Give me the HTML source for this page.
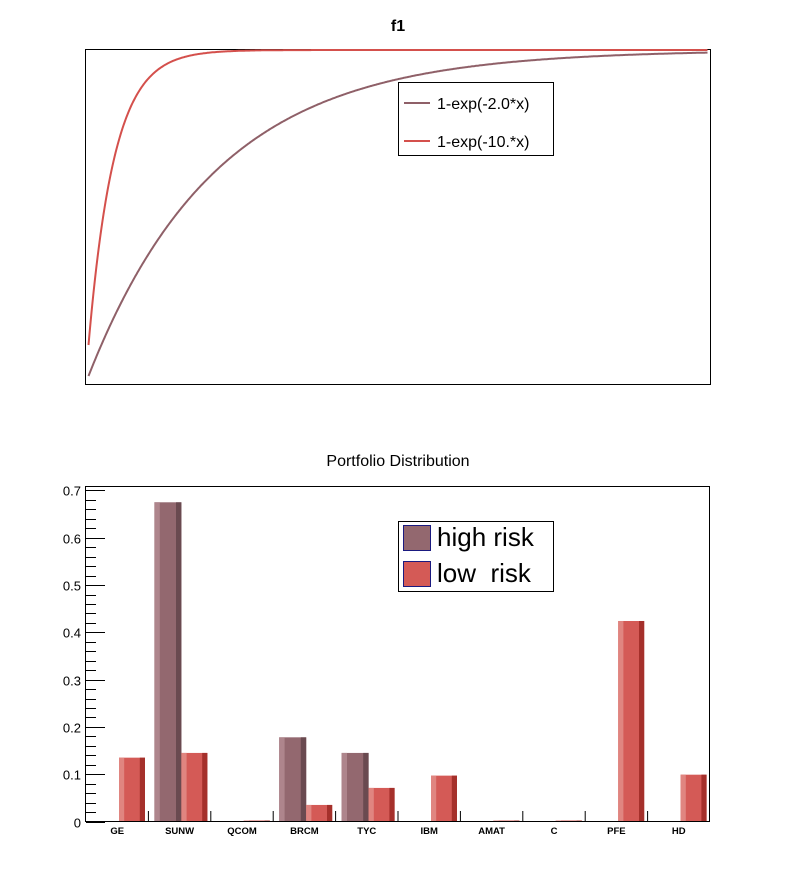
<!DOCTYPE html>
<html><head><meta charset="utf-8"><style>body{margin:0;background:#fff}svg{display:block}text{font-family:"Liberation Sans",sans-serif}</style></head>
<body>
<svg width="796" height="872" xmlns="http://www.w3.org/2000/svg" id="s">
<rect width="796" height="872" fill="#fff"/>
<text x="398" y="31" font-size="16" font-weight="bold" text-anchor="middle">f1</text>
<rect x="85.5" y="49.5" width="625" height="335" fill="none" stroke="#000" stroke-width="1"/>
<path id="brown" fill="none" stroke="#8f6068" stroke-width="2"/>
<path id="red" fill="none" stroke="#d4504c" stroke-width="2"/>
<rect x="398.5" y="82.5" width="155" height="73" fill="#fff" stroke="#000"/>
<line x1="404" y1="103" x2="430" y2="103" stroke="#8f6068" stroke-width="2"/>
<line x1="404" y1="141" x2="430" y2="141" stroke="#d4504c" stroke-width="2"/>
<text x="437" y="109" font-size="16">1-exp(-2.0*x)</text>
<text x="437" y="147" font-size="16">1-exp(-10.*x)</text>

<text x="398" y="466" font-size="16" text-anchor="middle">Portfolio Distribution</text>
<g id="bars"></g>
<rect x="85.5" y="486.5" width="624" height="335" fill="none" stroke="#000"/>
<g id="ticks" stroke="#000" stroke-width="1"></g>
<g id="lab" font-size="13" text-anchor="end"></g>
<g id="xl" font-size="9.5" text-anchor="middle" font-weight="bold"></g>
<rect x="398.5" y="521.5" width="155" height="70" fill="#fff" stroke="#000"/>
<rect x="403.5" y="525.5" width="27" height="25" fill="#93686f" stroke="#1a1a80"/>
<rect x="403.5" y="561.5" width="27" height="25" fill="#d45a56" stroke="#1a1a80"/>
<text x="437" y="546" font-size="26">high risk</text>
<text x="437" y="582" font-size="26" xml:space="preserve">low  risk</text>
</svg>
<script>
var ns="http://www.w3.org/2000/svg";
function el(t,a,p){var e=document.createElementNS(ns,t);for(var k in a)e.setAttribute(k,a[k]);document.getElementById(p).appendChild(e);return e;}
var b="",r="";
for(var x=88.5;x<=708;x+=1){var yb=50+326*Math.exp(-0.0078*(x-88.5));var yr=50+295*Math.exp(-0.039*(x-88.5));b+=(x==88.5?"M":"L")+x+","+yb.toFixed(1);r+=(x==88.5?"M":"L")+x+","+yr.toFixed(1);}
document.getElementById("brown").setAttribute("d",b);document.getElementById("red").setAttribute("d",r);
var S=472.9,Y0=821.5,W=62.4,X0=86;
var names=["GE","SUNW","QCOM","BRCM","TYC","IBM","AMAT","C","PFE","HD"];
var hi=[0,0.675,0,0.178,0.145,0,0,0,0,0];
var lo=[0.135,0.145,0.002,0.035,0.071,0.097,0.002,0.002,0.424,0.099];
function bar(x,w,v,c){var h=Math.max(v*S,1);var y=Y0-h;
el("rect",{x:x,y:y,width:w,height:h,fill:c[1]},"bars");
el("rect",{x:x,y:y,width:w*0.2,height:h,fill:c[0]},"bars");
el("rect",{x:x+w*0.8,y:y,width:w*0.2,height:h,fill:c[2]},"bars");}
for(var i=0;i<10;i++){var bx=X0+i*W;
if(hi[i]>0)bar(bx+6,27,hi[i],["#ae858c","#93686f","#6a4a50"]);
bar(bx+33,26,lo[i],["#e08580","#d45a56","#a5302b"]);
var t=el("text",{x:bx+W/2,y:834},"xl");t.textContent=names[i];
if(i>0)el("line",{x1:bx,y1:811,x2:bx,y2:821},"ticks");}
for(var j=0;j<=35;j++){var v=j*0.02;var y=Math.round(Y0-v*S)+0.5;var maj=(j%5==0);
el("line",{x1:86,y1:y,x2:86+(maj?19:10),y2:y},"ticks");
if(maj){var t=el("text",{x:81,y:y+5},"lab");t.textContent=(j==0?"0":(v).toFixed(1));}}
</script>
</body></html>
